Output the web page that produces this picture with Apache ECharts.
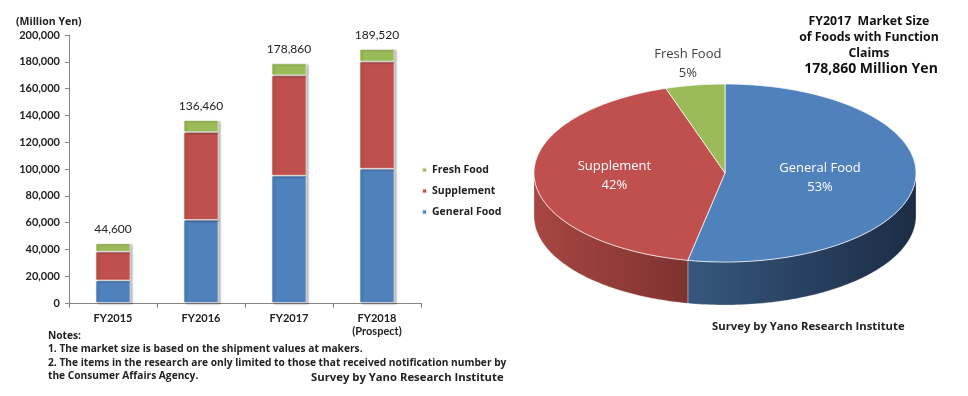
<!DOCTYPE html>
<html><head><meta charset="utf-8">
<script src="https://cdn.jsdelivr.net/npm/echarts@6/dist/echarts.min.js"></script>
<style>html,body{margin:0;padding:0;background:#fff}#c{width:968px;height:396px}</style>
</head><body><div id="c"></div>
<script>
// ---- data ----
const categories = ['FY2015', 'FY2016', 'FY2017', 'FY2018\n(Prospect)'];
const generalFood = [16800, 62000, 95000, 100200];
const supplement = [21500, 65500, 74900, 80000];
const freshFood = [6300, 8960, 8960, 9320];
const totals = [44600, 136460, 178860, 189520];
const yMin = 0, yMax = 200000, yInterval = 20000;
const legendNames = ['Fresh Food', 'Supplement', 'General Food'];
const pieNames = ['General Food', 'Supplement', 'Fresh Food'];
const pieValues = [95000, 74900, 8960];

// ---- style ----
const BLUE = '#4f81bd', RED = '#c0504d', GREEN = '#9bbb59';
const FONT = 'Lato';
const FONT2 = 'Open Sans';
const pieColors = [BLUE, RED, GREEN];
const sideColors = [
  ['#36577f', '#1c2c44'],
  ['#a84642', '#7e3230'],
  ['#7d9a45', '#5f7633']
];
const labelRadius = [0.5, 0.58, 1.24];
const PIE = { cx: 725, cy: 173, rx: 191, ry: 89, depth: 43 };

const fmt = v => v.toLocaleString('en-US');

function renderPie(params, api) {
  const i = params.dataIndex;
  const total = pieValues.reduce((a, b) => a + b, 0);
  let start = 0;
  for (let k = 0; k < i; k++) start += pieValues[k];
  const val = api.value(0);
  const a0 = start / total * 2 * Math.PI;
  const a1 = (start + val) / total * 2 * Math.PI;
  const P = (t, d) => [PIE.cx + PIE.rx * Math.sin(t), PIE.cy - PIE.ry * Math.cos(t) + (d || 0)];
  const children = [];
  const s0 = Math.max(a0, Math.PI / 2), s1 = Math.min(a1, 3 * Math.PI / 2);
  if (s1 > s0) {
    const m = Math.max(2, Math.ceil((s1 - s0) / 0.02));
    const sp = [];
    for (let k = 0; k <= m; k++) sp.push(P(s0 + (s1 - s0) * k / m));
    for (let k = m; k >= 0; k--) sp.push(P(s0 + (s1 - s0) * k / m, PIE.depth));
    children.push({
      type: 'polygon', shape: { points: sp }, z2: 1,
      style: {
        fill: new echarts.graphic.LinearGradient(0, 0, 1, 0, [
          { offset: 0, color: sideColors[i][0] }, { offset: 1, color: sideColors[i][1] }
        ]),
        stroke: 'rgba(255,255,255,0.35)', lineWidth: 0.8
      }
    });
  }
  const n = Math.max(2, Math.ceil((a1 - a0) / 0.02));
  const pts = [[PIE.cx, PIE.cy]];
  for (let k = 0; k <= n; k++) pts.push(P(a0 + (a1 - a0) * k / n));
  children.push({
    type: 'polygon', shape: { points: pts }, z2: 10,
    style: { fill: pieColors[i], stroke: 'rgba(255,255,255,0.7)', lineWidth: 1 }
  });
  const mid = (a0 + a1) / 2;
  const pct = Math.round(val / total * 100) + '%';
  const outside = val / total < 0.1;
  const k = labelRadius[i];
  const lp = [PIE.cx + PIE.rx * k * Math.sin(mid), PIE.cy - PIE.ry * k * Math.cos(mid)];
  children.push({
    type: 'text', z2: 20,
    style: {
      text: pieNames[i] + '\n' + pct, x: lp[0], y: lp[1],
      align: 'center', verticalAlign: 'middle',
      fill: outside ? '#404040' : '#ffffff',
      fontFamily: 'Open Sans', fontSize: 13, lineHeight: 19
    }
  });
  return { type: 'group', children };
}

const chart = echarts.init(document.getElementById('c'), null, { renderer: 'canvas' });
const barStyle = c => ({
  color: c, borderColor: 'rgba(255,255,255,0.8)', borderWidth: 0.8,
  shadowColor: 'rgba(0,0,0,0.3)', shadowBlur: 2, shadowOffsetX: 2, shadowOffsetY: 1
});
chart.setOption({
  animation: false,
  textStyle: { fontFamily: FONT },
  grid: { left: 69, right: 547, top: 35, bottom: 93, containLabel: false },
  legend: {
    orient: 'vertical', left: 416, top: 159, data: legendNames,
    icon: 'rect', itemWidth: 5, itemHeight: 5, itemGap: 9,
    textStyle: { fontFamily: FONT2, fontWeight: 'bold', fontSize: 10.5, color: '#222', lineHeight: 12 }
  },
  xAxis: {
    type: 'category', data: categories,
    axisLine: { lineStyle: { color: '#868686' } },
    axisTick: { show: true, length: 5, lineStyle: { color: '#868686' } },
    axisLabel: { fontFamily: FONT, fontWeight: 'bold', fontSize: 11, color: '#222', margin: 9, lineHeight: 13 }
  },
  yAxis: {
    type: 'value', min: yMin, max: yMax, interval: yInterval,
    splitLine: { show: false },
    axisLine: { show: true, lineStyle: { color: '#868686' } },
    axisTick: { show: true, length: 4, lineStyle: { color: '#868686' } },
    axisLabel: { fontFamily: FONT, fontWeight: 'bold', fontSize: 11, color: '#222', margin: 9, formatter: v => fmt(v) }
  },
  series: [
    { name: 'General Food', type: 'bar', stack: 'a', data: generalFood, barWidth: 35, itemStyle: barStyle(BLUE) },
    { name: 'Supplement', type: 'bar', stack: 'a', data: supplement, itemStyle: barStyle(RED) },
    {
      name: 'Fresh Food', type: 'bar', stack: 'a', data: freshFood, itemStyle: barStyle(GREEN),
      label: {
        show: true, position: 'top', distance: 8, color: '#222', fontFamily: FONT, fontSize: 12,
        formatter: p => fmt(totals[p.dataIndex])
      }
    },
    {
      type: 'custom', coordinateSystem: 'none', renderItem: renderPie,
      data: pieValues.map(v => [v]), silent: true
    }
  ],
  graphic: [
    { type: 'text', left: 16, top: 17, style: { text: '(Million Yen)', fontFamily: FONT2, fontWeight: 'bold', fontSize: 10.5, fill: '#222' } },
    { type: 'text', left: 48, top: 329, style: {
      text: 'Notes:\n1. The market size is based on the shipment values at makers.\n2. The items in the research are only limited to those that received notification number by\nthe Consumer Affairs Agency.',
      fontFamily: FONT2, fontWeight: 'bold', fontSize: 10.2, lineHeight: 13.5, fill: '#222' } },
    { type: 'text', left: 311, top: 372, style: { text: 'Survey by Yano Research Institute', fontFamily: FONT2, fontWeight: 'bold', fontSize: 11.3, fill: '#222' } },
    { type: 'text', left: 712, top: 321, style: { text: 'Survey by Yano Research Institute', fontFamily: FONT2, fontWeight: 'bold', fontSize: 11.3, fill: '#222' } },
    { type: 'text', x: 869, y: 13, style: {
      text: 'FY2017  Market Size\nof Foods with Function\nClaims', align: 'center',
      fontFamily: FONT2, fontWeight: 'bold', fontSize: 12.3, lineHeight: 16, fill: '#111' } },
    { type: 'text', x: 871, y: 62, style: {
      text: '178,860 Million Yen', align: 'center',
      fontFamily: FONT2, fontWeight: 'bold', fontSize: 14, fill: '#111' } }
  ]
});
</script>
</body></html>
